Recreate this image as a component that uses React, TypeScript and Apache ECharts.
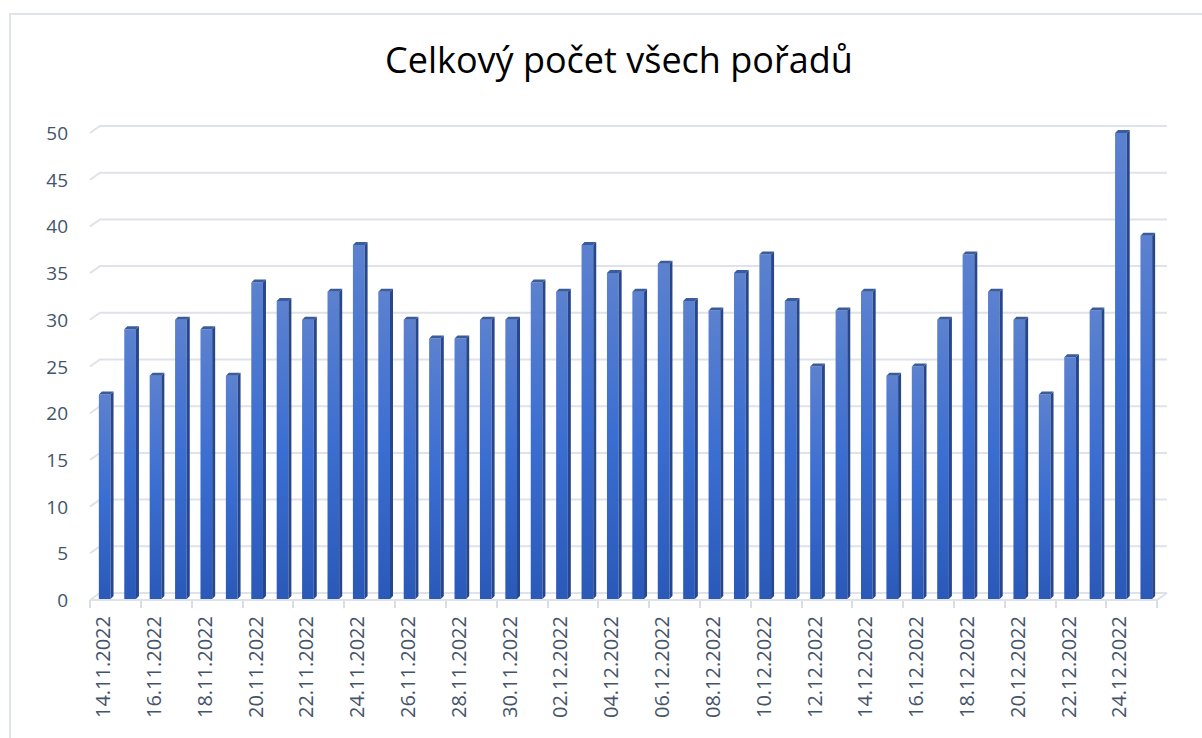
import React, { useEffect, useRef } from "react";
import * as echarts from "echarts";

const titleText = "Celkový počet všech pořadů";

const categories = [
  "14.11.2022", "15.11.2022", "16.11.2022", "17.11.2022", "18.11.2022", "19.11.2022",
  "20.11.2022", "21.11.2022", "22.11.2022", "23.11.2022", "24.11.2022", "25.11.2022",
  "26.11.2022", "27.11.2022", "28.11.2022", "29.11.2022", "30.11.2022", "01.12.2022",
  "02.12.2022", "03.12.2022", "04.12.2022", "05.12.2022", "06.12.2022", "07.12.2022",
  "08.12.2022", "09.12.2022", "10.12.2022", "11.12.2022", "12.12.2022", "13.12.2022",
  "14.12.2022", "15.12.2022", "16.12.2022", "17.12.2022", "18.12.2022", "19.12.2022",
  "20.12.2022", "21.12.2022", "22.12.2022", "23.12.2022", "24.12.2022", "25.12.2022",
];

const values = [
  22, 29, 24, 30, 29, 24, 34, 32, 30, 33, 38, 33, 30, 28, 28, 30, 30, 34, 33, 38, 35,
  33, 36, 32, 31, 35, 37, 32, 25, 31, 33, 24, 25, 30, 37, 33, 30, 22, 26, 31, 50, 39,
];

const gridValues = [0, 5, 10, 15, 20, 25, 30, 35, 40, 45, 50];

export default function App() {
  const ref = useRef<HTMLDivElement>(null);

  useEffect(() => {
    if (!ref.current) return;
    const chart = echarts.init(ref.current, undefined, { renderer: "svg" });
    const labelColor = "#44546a";
    const gridColor = "#dfe2e8";
    const backDx = 10;
    const backDy = -7;

    const option: any = {
      animation: false,
      backgroundColor: "#ffffff",
      title: {
        text: titleText,
        left: 380,
        top: 36,
        textStyle: {
          fontFamily: "Open Sans",
          fontSize: 36,
          fontWeight: "normal",
          color: "#000000",
        },
      },
      graphic: [
        {
          type: "rect",
          shape: { x: 10, y: 14, width: 1210, height: 760 },
          style: { fill: "none", stroke: "#dfe3ea", lineWidth: 2 },
          z: -10,
        },
      ],
      grid: { left: 90, right: 45, top: 133, bottom: 138 },
      xAxis: [
        {
          type: "category",
          data: categories,
          boundaryGap: true,
          axisLine: { show: false },
          axisTick: {
            show: true,
            interval: 1,
            length: 8,
            lineStyle: { color: "#d9dde4", width: 2 },
          },
          axisLabel: {
            interval: 1,
            rotate: 90,
            margin: 16,
            color: labelColor,
            fontFamily: "Open Sans",
            fontSize: 20,
          },
          splitLine: { show: false },
        },
      ],
      yAxis: [
        {
          type: "value",
          min: 0,
          max: 50,
          interval: 5,
          axisLine: { show: false },
          axisTick: { show: false },
          splitLine: { show: false },
          axisLabel: {
            margin: 22,
            color: labelColor,
            fontFamily: "Open Sans",
            fontSize: 19,
          },
        },
      ],
      series: [
        {
          type: "custom",
          name: "grid",
          silent: true,
          z: 1,
          data: gridValues.map((v) => [0, v]),
          renderItem: (params: any, api: any) => {
            const cs = params.coordSys;
            const v = api.value(1);
            const y = api.coord([0, v])[1];
            const x0 = cs.x;
            const x1 = cs.x + cs.width;
            const children: any[] = [
              {
                type: "polyline",
                shape: {
                  points: [
                    [x0, y],
                    [x0 + backDx, y + backDy],
                    [x1 + backDx, y + backDy],
                  ],
                },
                style: { stroke: gridColor, lineWidth: 2, fill: "none" },
              },
            ];
            if (v === 0) {
              children.push({
                type: "polyline",
                shape: {
                  points: [
                    [x0, y],
                    [x1, y],
                    [x1 + backDx, y + backDy],
                  ],
                },
                style: { stroke: gridColor, lineWidth: 2, fill: "none" },
              });
            }
            return { type: "group", children };
          },
        },
        {
          type: "custom",
          name: "Celkový počet",
          z: 5,
          data: values.map((v, i) => [i, v]),
          renderItem: (params: any, api: any) => {
            const idx = api.value(0);
            const v = api.value(1);
            const top = api.coord([idx, v]);
            const base = api.coord([idx, 0]);
            const w = api.size([1, 0])[0];
            const fw = w * 0.46;
            const d = 3;
            const x0 = top[0] - fw / 2 + 2;
            const ty = top[1];
            const by = base[1] - 1;
            return {
              type: "group",
              children: [
                {
                  type: "rect",
                  shape: { x: x0, y: ty, width: fw, height: by - ty },
                  style: {
                    fill: new echarts.graphic.LinearGradient(0, 0, 0, 1, [
                      { offset: 0, color: "#5c81cf" },
                      { offset: 0.5, color: "#3b6ed2" },
                      { offset: 1, color: "#2a59b8" },
                    ]),
                  },
                },
                {
                  type: "polygon",
                  shape: {
                    points: [
                      [x0 + fw, ty],
                      [x0 + fw + d, ty - d],
                      [x0 + fw + d, by - d],
                      [x0 + fw, by],
                    ],
                  },
                  style: { fill: "#27478a" },
                },
                {
                  type: "polygon",
                  shape: {
                    points: [
                      [x0, ty],
                      [x0 + d, ty - d],
                      [x0 + fw + d, ty - d],
                      [x0 + fw, ty],
                    ],
                  },
                  style: { fill: "#3a5b9c" },
                },
              ],
            };
          },
        },
      ],
    };

    chart.setOption(option);
    return () => chart.dispose();
  }, []);

  return (
    <div
      ref={ref}
      style={{ position: "fixed", left: 0, top: 0, width: 1202, height: 738 }}
    />
  );
}
